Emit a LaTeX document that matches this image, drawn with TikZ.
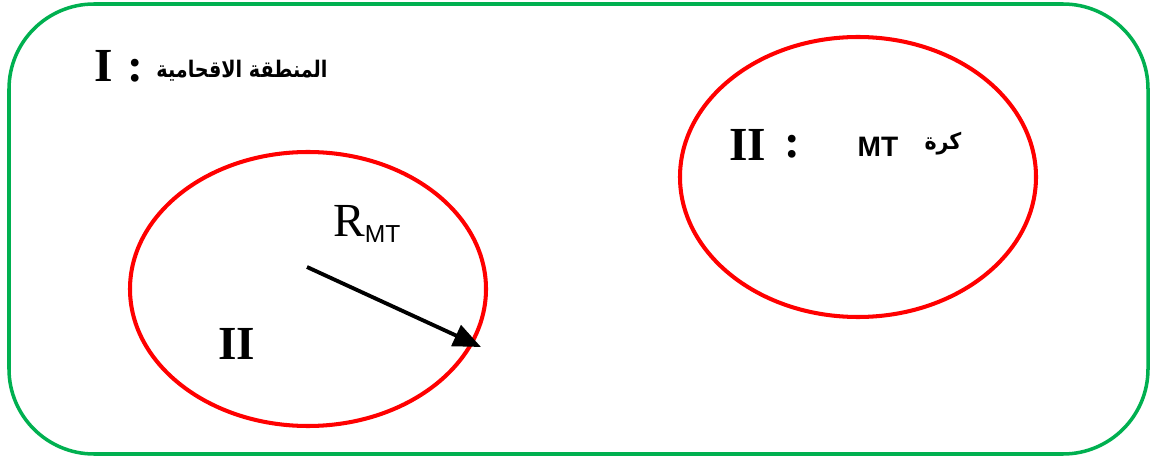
\documentclass[tikz,border=0pt]{standalone}
\usepackage{fontspec}
\usepackage{graphicx}
\setmainfont{Liberation Serif}
\newfontfamily\arabicfont[Script=Arabic]{DejaVu Sans}
\newfontfamily\latinsans{Liberation Sans}
\TeXXeTstate=1
\usetikzlibrary{arrows.meta}
\definecolor{zonegreen}{RGB}{0,176,80}
\definecolor{ballred}{RGB}{255,0,0}
\tikzset{
  numeral/.style={font=\fontsize{27}{29}\selectfont\bfseries, inner sep=0pt},
  arlabel/.style={font=\arabicfont\bfseries\fontsize{13}{15}\selectfont, inner sep=0pt},
  ball/.style={ballred, line width=2.3pt},
}
\begin{document}
\begin{tikzpicture}[x=0.02cm,y=-0.02cm]
  \useasboundingbox (0,0) rectangle (1150,459);
  \draw[zonegreen, line width=2pt, rounded corners=1.7cm] (9,4) rectangle (1148,454);
  \draw[ball] (308,289) ellipse (178 and 137);
  \draw[ball] (858,177) ellipse (178 and 140);
  \node[numeral] (zoneI) at (104,66) {I};
  \node[numeral] (colonI) at (135,71) {:};
  \node[arlabel] (zoneIname) at (242,71) {\scalebox{0.84}[1]{\beginR المنطقة الاقحامية\endR}};
  \node[numeral] (ballII) at (237,344) {II};
  \node[numeral] (zoneII) at (748,145) {II};
  \node[numeral] (colonII) at (792,147) {:};
  \node[font=\latinsans\bfseries\fontsize{16}{18}\selectfont, inner sep=0pt] (mt) at (878,147) {MT};
  \node[arlabel] (zoneIIname) at (943,144) {\scalebox{0.9}[1]{\beginR كرة\endR}};
  \node[inner sep=0pt, anchor=base west] (radius) at (333,237)
    {\fontsize{27}{29}\selectfont R\raisebox{-3pt}{\latinsans\fontsize{14}{16}\selectfont MT}};
  \coordinate (centre) at (307,267);
  \coordinate (rim) at (481,347);
  \draw[line width=2.2pt, -{Triangle[length=0.55cm,width=0.45cm]}] (centre) -- (rim);
\end{tikzpicture}
\end{document}
